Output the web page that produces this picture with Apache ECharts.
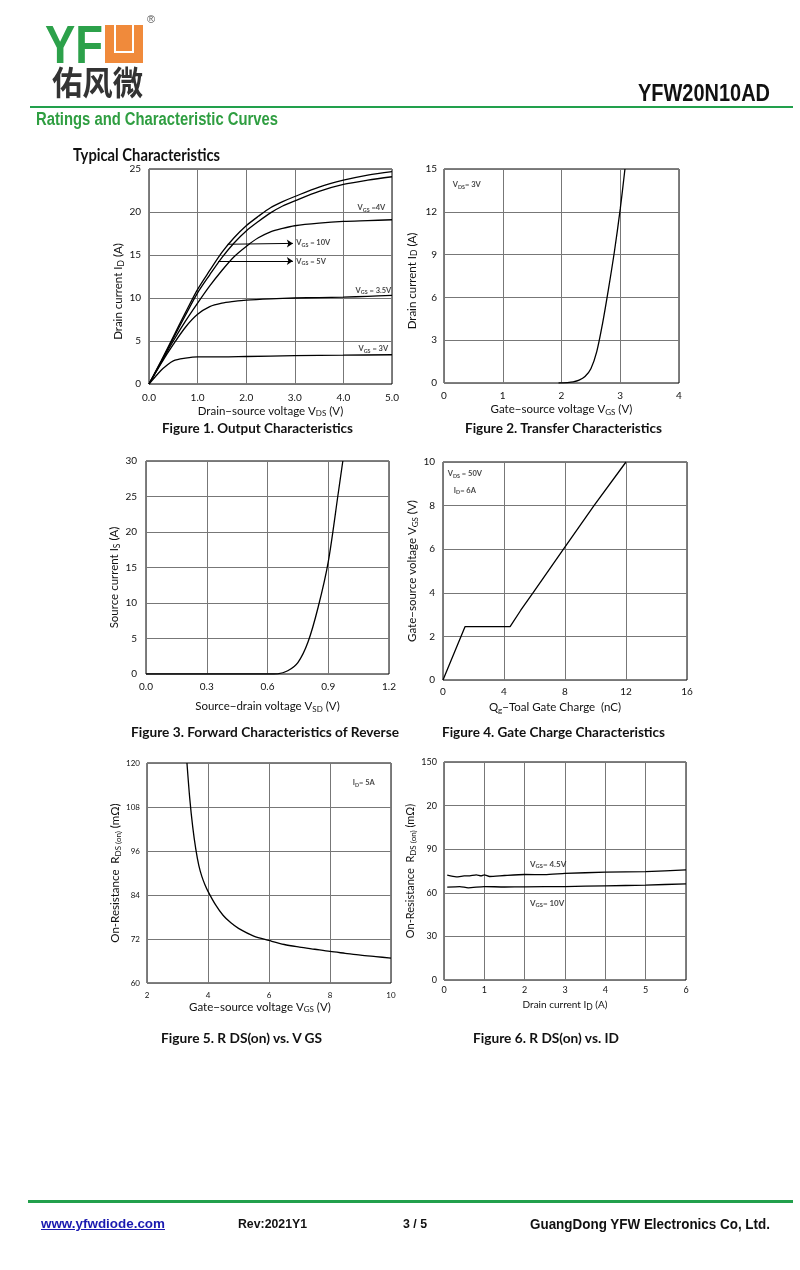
<!DOCTYPE html>
<html>
<head>
<meta charset="utf-8">
<script src="https://cdn.jsdelivr.net/npm/echarts@6/dist/echarts.min.js"></script>
<style>
  html,body{margin:0;padding:0;background:#fff;}
  body{width:800px;height:1270px;position:relative;overflow:hidden;}
  #chart{position:absolute;left:0;top:0;width:800px;height:1270px;}
  .t{position:absolute;white-space:nowrap;line-height:1;transform-origin:0 0;z-index:3;}
  .ls{font-family:'Liberation Sans',Arial,sans-serif;font-weight:bold;}
  .la{font-family:Lato,'Open Sans',sans-serif;font-weight:bold;color:#111;}
  .bar{position:absolute;background:#22a04c;z-index:3;}
</style>
</head>
<body>
<div id="chart"></div>

<!-- header -->
<div class="t ls" data-w="58" style="left:45px;top:18px;font-size:53px;color:#2ca14a;">YF</div>
<div style="position:absolute;left:105px;top:25px;width:38px;height:38px;background:#f08a3b;z-index:3;">
  <div style="position:absolute;left:9px;top:0;width:16px;height:26px;border:2px solid #fff;border-top:none;"></div>
</div>
<div class="t" style="left:147px;top:14px;font-size:11px;color:#555;font-family:'Liberation Sans',sans-serif;">®</div>
<div class="t" data-w="91" style="left:52px;top:65px;font-size:33px;color:#333;font-family:'Noto Sans CJK SC',sans-serif;font-weight:bold;">佑风微</div>
<div class="t ls" data-w="132" style="left:638px;top:82px;font-size:23px;color:#111;">YFW20N10AD</div>
<div class="bar" style="left:30px;top:105.5px;width:763px;height:2.5px;"></div>
<div class="t ls" data-w="242" style="left:36px;top:111px;font-size:17.5px;color:#2f9e41;">Ratings and Characteristic Curves</div>
<div class="t la" data-w="147" style="left:73px;top:147px;font-size:16.7px;">Typical Characteristics</div>

<!-- captions -->
<div class="t la" data-w="191" style="left:162px;top:423.3px;font-size:12.5px;">Figure 1. Output Characteristics</div>
<div class="t la" data-w="197" style="left:465px;top:423.3px;font-size:12.5px;">Figure 2. Transfer Characteristics</div>
<div class="t la" data-w="268" style="left:131px;top:727.4px;font-size:12.5px;">Figure 3. Forward Characteristics of Reverse</div>
<div class="t la" data-w="223" style="left:442px;top:727.4px;font-size:12.5px;">Figure 4. Gate Charge Characteristics</div>
<div class="t la" data-w="161" style="left:161px;top:1033.4px;font-size:12.5px;">Figure 5. R DS(on) vs. V GS</div>
<div class="t la" data-w="146" style="left:473px;top:1033.4px;font-size:12.5px;">Figure 6. R DS(on) vs. ID</div>

<!-- footer -->
<div class="bar" style="left:28px;top:1200px;width:765px;height:2.5px;"></div>
<div class="t ls" data-w="124" style="left:40.5px;top:1218px;font-size:12.5px;color:#1a1ab0;text-decoration:underline;">www.yfwdiode.com</div>
<div class="t ls" data-w="69" style="left:238px;top:1218px;font-size:12.5px;color:#111;">Rev:2021Y1</div>
<div class="t ls" data-w="24" style="left:403px;top:1218px;font-size:12.5px;color:#111;">3 / 5</div>
<div class="t ls" data-w="240" style="left:530px;top:1217px;font-size:14px;color:#111;">GuangDong YFW Electronics Co, Ltd.</div>

<script>
// ---------------- DATA ----------------
// Figure 1: Output characteristics, ID (A) vs VDS (V)
const fig1XTicks = ['0.0','1.0','2.0','3.0','4.0','5.0'];
const fig1YTicks = ['0','5','10','15','20','25'];
const fig1Vgs10 = [[0,0],[0.25,2.7],[0.5,5.5],[0.75,8.3],[1.0,11.0],[1.25,13.2],[1.5,15.3],[1.75,17.0],[2.0,18.4],[2.25,19.5],[2.5,20.5],[2.75,21.2],[3.0,21.8],[3.5,22.9],[4.0,23.7],[4.5,24.3],[5.0,24.7]];
const fig1Vgs5  = [[0,0],[0.25,2.6],[0.5,5.3],[0.75,8.0],[1.0,10.6],[1.25,12.7],[1.5,14.7],[1.75,16.4],[2.0,17.8],[2.25,18.9],[2.5,19.9],[2.75,20.7],[3.0,21.3],[3.5,22.4],[4.0,23.2],[4.5,23.7],[5.0,24.1]];
const fig1Vgs4  = [[0,0],[0.25,2.5],[0.5,5.0],[0.75,7.3],[1.0,9.4],[1.25,11.4],[1.5,13.2],[1.75,14.8],[2.0,16.0],[2.25,17.0],[2.5,17.7],[2.75,18.1],[3.0,18.4],[3.5,18.7],[4.0,18.9],[4.5,19.0],[5.0,19.1]];
const fig1Vgs35 = [[0,0],[0.25,2.4],[0.5,4.6],[0.75,6.6],[1.0,8.1],[1.25,9.0],[1.5,9.4],[1.75,9.6],[2.0,9.75],[2.5,9.9],[3.0,10.0],[3.5,10.05],[4.0,10.1],[4.5,10.2],[5.0,10.3]];
const fig1Vgs3  = [[0,0],[0.25,1.6],[0.35,2.1],[0.5,2.7],[0.75,3.0],[1.0,3.15],[1.5,3.15],[2.0,3.2],[3.0,3.3],[4.0,3.35],[5.0,3.4]];

// Figure 2: Transfer characteristics, ID (A) vs VGS (V)
const fig2XTicks = ['0','1','2','3','4'];
const fig2YTicks = ['0','3','6','9','12','15'];
const fig2Curve = [[1.95,0],[2.0,0.01],[2.1,0.03],[2.2,0.08],[2.3,0.2],[2.4,0.45],[2.5,1.0],[2.6,2.2],[2.7,4.2],[2.8,6.6],[2.9,9.2],[3.0,12.2],[3.08,15]];

// Figure 3: Body diode forward, IS (A) vs VSD (V)
const fig3XTicks = ['0.0','0.3','0.6','0.9','1.2'];
const fig3YTicks = ['0','5','10','15','20','25','30'];
const fig3Curve = [[0,0],[0.6,0],[0.65,0.03],[0.7,0.45],[0.75,1.6],[0.8,4.5],[0.85,9.4],[0.9,15.8],[0.95,25.6],[0.972,30]];

// Figure 4: Gate charge, VGS (V) vs Qg (nC)
const fig4XTicks = ['0','4','8','12','16'];
const fig4YTicks = ['0','2','4','6','8','10'];
const fig4Curve = [[0,0],[1.45,2.45],[4.4,2.45],[5.1,3.2],[5.9,4.0],[7.9,6.0],[9.9,8.0],[12,10]];

// Figure 5: RDS(on) (mOhm) vs VGS (V)
const fig5XTicks = ['2','4','6','8','10'];
const fig5YTicks = ['60','72','84','96','108','120'];
const fig5Curve = [[3.31,120],[3.4,110.5],[3.5,102.5],[3.6,96.5],[3.7,92],[3.8,89],[3.9,86.8],[4.0,85],[4.25,81.3],[4.5,78.4],[4.75,76.4],[5.0,74.9],[5.5,72.8],[6.0,71.6],[6.5,70.5],[7.0,69.8],[7.5,69.2],[8.0,68.6],[8.5,68.1],[9.0,67.6],[9.5,67.2],[10,66.8]];

// Figure 6: RDS(on) (mOhm) vs ID (A)
const fig6XTicks = ['0','1','2','3','4','5','6'];
const fig6YTicks = ['0','30','60','90','20','150'];
const fig6Vgs45 = [[0.08,72.1],[0.3,71.0],[0.5,71.6],[0.64,71.7],[0.8,72.4],[0.92,71.7],[1.0,72.4],[1.13,71.2],[1.5,71.9],[2.0,72.6],[2.5,72.5],[3.0,73.3],[4.0,74.2],[5.0,74.6],[6.0,75.8]];
const fig6Vgs10 = [[0.08,63.9],[0.39,64.3],[0.6,63.4],[1.0,64.3],[1.5,64.0],[2.0,64.1],[3.0,64.3],[4.0,64.8],[5.0,65.3],[6.0,66.2]];

// ---------------- CHART ----------------
const FONT = 'Lato, "Open Sans", sans-serif';
const TXT = '#111';
const rich = {
  s:  {fontSize:8, lineHeight:9, verticalAlign:'bottom', fontFamily:FONT, color:TXT},
  sc: {fontSize:8.5, lineHeight:11, verticalAlign:'bottom', fontFamily:FONT, color:TXT}
};

function xAx(i, min, max, interval, ticks, name, gap, o) {
  o = o || {};
  return {
    gridIndex:i, type:'value', min:min, max:max, interval:interval,
    axisLine:{show:false}, axisTick:{show:false},
    splitLine:{show:true, lineStyle:{color:'#777', width:1}},
    axisLabel:{formatter:function(v){return ticks[Math.round((v-min)/interval)];},
      fontSize:o.fs||10, fontFamily:FONT, color:TXT, margin:o.margin||8},
    name:name, nameLocation:'middle', nameGap:gap,
    nameTextStyle:{fontFamily:FONT, fontSize:o.nfs||11.5, color:TXT, lineHeight:14, padding:o.pad||0, rich:rich}
  };
}
function yAx(i, min, max, interval, ticks, name, gap, o) {
  return xAx(i, min, max, interval, ticks, name, gap, o);
}
function curve(i, data, smooth) {
  return {type:'line', xAxisIndex:i, yAxisIndex:i, data:data, showSymbol:false, smooth:smooth,
    lineStyle:{color:'#000', width:1.3}, silent:true, z:4};
}
function note(i, x, y, text, fs, extra) {
  const s = {
    type:'scatter', xAxisIndex:i, yAxisIndex:i, symbolSize:1, itemStyle:{color:'rgba(0,0,0,0)'}, silent:true, z:6,
    data:[[x,y]],
    label:{show:true, position:'right', distance:0, formatter:text, fontFamily:FONT, fontWeight:'bold', fontSize:fs, color:TXT,
      rich:{
        b:{fontFamily:FONT, fontWeight:'bold', fontSize:fs, color:TXT, lineHeight:fs+2},
        s:{fontFamily:FONT, fontWeight:'bold', fontSize:fs*0.72, color:TXT, lineHeight:fs*0.8, verticalAlign:'bottom'}
      }}
  };
  if (extra) Object.assign(s, extra);
  return s;
}
function arrowLine(from, to) {
  return [{coord:from}, {coord:to}];
}

const grids = [
  {left:149, top:169, width:243, height:215},
  {left:444, top:169, width:235, height:214},
  {left:146, top:461, width:243, height:213},
  {left:443, top:462, width:244, height:218},
  {left:147, top:763, width:244, height:220},
  {left:444, top:762, width:242, height:218}
].map(g => Object.assign(g, {show:true, borderColor:'#000', borderWidth:1, backgroundColor:'transparent'}));

const option = {
  animation:false,
  backgroundColor:'transparent',
  grid:grids,
  xAxis:[
    xAx(0, 0, 5, 1, fig1XTicks, 'Drain\u2212source voltage V{s|DS} (V)', 19, {margin:9}),
    xAx(1, 0, 4, 1, fig2XTicks, 'Gate\u2212source voltage V{s|GS} (V)', 19, {margin:8}),
    xAx(2, 0, 1.2, 0.3, fig3XTicks, 'Source\u2212drain voltage V{s|SD} (V)', 25, {margin:8}),
    xAx(3, 0, 16, 4, fig4XTicks, 'Q{s|g}\u2212Toal Gate Charge  (nC)', 20, {margin:7, pad:[0,20,0,0]}),
    xAx(4, 2, 10, 2, fig5XTicks, 'Gate\u2212source voltage V{s|GS} (V)', 14, {margin:8, fs:8, pad:[0,18,0,0]}),
    xAx(5, 0, 6, 1, fig6XTicks, 'Drain current I{sc|D} (A)', 18, {margin:6, fs:9, nfs:10})
  ],
  yAxis:[
    yAx(0, 0, 25, 5, fig1YTicks, 'Drain current I{sc|D} (A)', 22, {margin:8, pad:[0,30,0,0]}),
    yAx(1, 0, 15, 3, fig2YTicks, 'Drain current I{sc|D} (A)', 25, {margin:7, pad:[0,10,0,0]}),
    yAx(2, 0, 30, 5, fig3YTicks, 'Source current I{sc|S} (A)', 24, {margin:9, pad:[0,20,0,0]}),
    yAx(3, 0, 10, 2, fig4YTicks, 'Gate\u2212source voltage V{s|GS} (V)', 22, {margin:8}),
    yAx(4, 60, 120, 12, fig5YTicks, 'On-Resistance  R{s|DS (on)} (m\u03a9)', 25, {margin:7, fs:8}),
    yAx(5, 0, 150, 30, fig6YTicks, 'On-Resistance  R{s|DS (on)} (m\u03a9)', 20, {margin:7, fs:9, nfs:11})
  ],
  series:[
    curve(0, fig1Vgs10, 0.3),
    curve(0, fig1Vgs5, 0.3),
    curve(0, fig1Vgs4, 0.3),
    curve(0, fig1Vgs35, 0.3),
    curve(0, fig1Vgs3, 0.3),
    note(0, 4.28, 20.5, '{b|V}{s|GS}{b| =4V}', 7.5),
    note(0, 3.02, 16.4, '{b|V}{s|GS}{b| = 10V}', 7.5, {
      markLine:{silent:true, symbol:['none','arrow'], symbolSize:6, label:{show:false},
        lineStyle:{color:'#000', width:1, type:'solid'},
        data:[arrowLine([1.62,16.25],[2.96,16.35]), arrowLine([1.42,14.3],[2.96,14.3])]}
    }),
    note(0, 3.02, 14.25, '{b|V}{s|GS}{b| = 5V}', 7.5),
    note(0, 4.24, 10.9, '{b|V}{s|GS}{b| = 3.5V}', 7.5),
    note(0, 4.3, 4.1, '{b|V}{s|GS}{b| = 3V}', 7.5),

    curve(1, fig2Curve, 0.3),
    note(1, 0.14, 13.9, '{b|V}{s|DS}{b|= 3V}', 7.5),

    curve(2, fig3Curve, 0.3),

    curve(3, fig4Curve, false),
    note(3, 0.28, 9.45, '{b|V}{s|DS}{b| = 50V}', 7.5),
    note(3, 0.68, 8.7, '{b|I}{s|D}{b|= 6A}', 7.5),

    curve(4, fig5Curve, 0.3),
    note(4, 8.73, 114.6, '{b|I}{s|D}{b|= 5A}', 7.5),

    curve(5, fig6Vgs45, 0.2),
    curve(5, fig6Vgs10, 0.2),
    note(5, 2.12, 79.7, '{b|V}{s|GS}{b|= 4.5V}', 8),
    note(5, 2.12, 52.9, '{b|V}{s|GS}{b|= 10V}', 8)
  ]
};

const chart = echarts.init(document.getElementById('chart'), null, {renderer:'canvas'});
chart.setOption(option);

// fit page text widths to the reference
function fit() {
  document.querySelectorAll('.t[data-w]').forEach(el => {
    el.style.transform = 'none';
    const w = el.getBoundingClientRect().width;
    const target = parseFloat(el.getAttribute('data-w'));
    if (w > 0) el.style.transform = 'scaleX(' + (target / w).toFixed(4) + ')';
  });
}
fit();
if (document.fonts && document.fonts.ready) document.fonts.ready.then(() => { fit(); chart.resize(); });
</script>
</body>
</html>
